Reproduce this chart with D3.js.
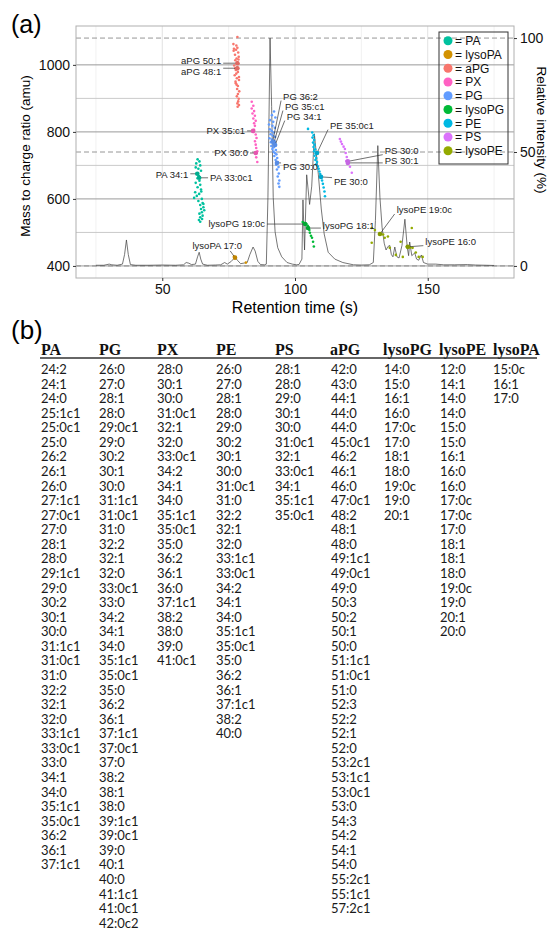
<!DOCTYPE html>
<html>
<head>
<meta charset="utf-8">
<script src="https://cdn.jsdelivr.net/npm/d3@7"></script>
<style>
  body { margin: 0; background: #fff; }
  svg { display: block; }
</style>
</head>
<body>
<svg id="fig" width="547" height="929"></svg>
<script>
// ---- data ----
const classes = ["PA", "lysoPA", "aPG", "PX", "PG", "lysoPG", "PE", "PS", "lysoPE"];
const classColors = ["#00C19F", "#D39200", "#F8766D", "#FF61C3", "#619CFF", "#00BA38", "#00B9E3", "#DB72FB", "#93AA00"];

// chromatogram: retention time (s) and relative intensity (%)
const chromTime = [25, 28, 30, 31, 33, 35, 35.8, 36.5, 37.2, 38, 40, 45, 50, 55, 58, 59, 60, 61, 62.5, 63.3, 63.9, 64.5, 65.2, 67, 70, 72, 73.5, 74.5, 76, 77.4, 78.3, 79.5, 81, 82, 83, 84.2, 85, 86, 87, 88.5, 89.2, 89.8, 90.6, 91.2, 91.8, 92.5, 93.5, 95, 97, 99, 100.5, 101.5, 102.6, 103.0, 103.6, 104.4, 105.5, 106.3, 107.3, 108.8, 109.9, 111.0, 112.5, 115, 118, 122, 125, 128, 129.5, 130.3, 131.2, 132.0, 132.8, 133.6, 134.3, 135.0, 135.7, 136.3, 136.9, 137.6, 138.4, 139.2, 140.3, 141.4, 142.3, 142.8, 143.2, 144.0, 145.1, 145.8, 146.6, 147.6, 148.4, 150, 153, 156, 160, 165, 168, 172, 175];
const chromIntensity = [0.3, 0.3, 0.8, 0.5, 0.3, 0.8, 5, 11.4, 5, 0.6, 0.3, 0.3, 0.4, 0.3, 0.5, 1.5, 1.2, 0.6, 0.8, 4, 6, 3, 0.8, 0.3, 0.4, 0.5, 1.5, 0.8, 2, 3.8, 2.5, 1, 1.3, 1.5, 5, 8.3, 6.5, 2, 0.6, 0.5, 0.8, 30, 100, 70, 30, 15, 8, 4, 1.5, 0.8, 0.5, 0.6, 3, 29, 7, 40, 27, 35, 58, 40, 25, 14, 6, 3, 1.5, 0.5, 0.4, 0.5, 1.5, 20, 52.8, 30, 17, 10, 7, 8.5, 9, 5, 4, 8.3, 4, 3.5, 9, 20.5, 8, 4.5, 10.5, 4.5, 5.7, 3, 2.5, 4.8, 1.5, 0.8, 0.8, 0.5, 0.5, 0.6, 0.4, 0.3, 0.2];

// identified species: [retention time (s), m/z]
const ptsPA = [[63.3,718],[64.0,712],[62.8,706],[64.3,700],[62.6,694],[63.6,690],[64.6,684],[63.0,675],[63.8,668],[63.3,662],[64.0,654],[62.6,648],[64.3,642],[63.3,635],[64.6,628],[64.7,622],[62.4,620],[63.9,615],[63.0,609],[62.0,603],[64.9,600],[63.6,594],[65.2,588],[65.5,585],[64.3,582],[65.5,575],[64.6,570],[65.8,566],[64.9,560],[64.0,556],[65.2,550],[64.3,545],[65.0,540],[63.8,537],[64.3,532]];
const ptsLysoPA = [[77.0,428],[77.4,424],[81.5,410]];
const ptsAPG = [[78.3,1083],[76.8,1062],[77.9,1058],[78.3,1051],[77.0,1048],[77.8,1045],[76.9,1042],[78.6,1037],[77.4,1030],[78.8,1024],[78.0,1019],[78.7,1016],[77.5,1014],[78.3,1008],[78.6,1003],[77.1,998],[78.2,992],[77.5,990],[77.7,985],[78.5,979],[77.9,974],[77.3,969],[78.9,964],[78.1,960],[78.9,955],[77.6,950],[77.7,945],[78.0,941],[78.5,937],[78.2,928],[79.0,921],[78.5,913],[78.1,906],[78.8,899],[78.6,891],[78.3,885],[78.9,880],[78.4,875]];
const ptsPX = [[83.7,890],[84.3,878],[83.7,870],[84.6,862],[84.0,855],[84.9,848],[84.3,840],[85.2,833],[84.6,826],[84.9,818],[84.6,806],[84.3,800],[85.2,792],[85.5,782],[84.9,772],[85.2,762],[85.4,752],[85.8,742],[85.6,737],[85.4,724],[85.8,710]];
const ptsPG = [[92.1,861],[91.3,850],[92.6,843],[90.6,835],[91.8,830],[90.2,822],[91.5,818],[92.4,812],[90.5,808],[91.2,803],[92.0,798],[90.8,793],[91.6,789],[92.5,785],[90.4,781],[91.3,777],[92.2,773],[90.9,769],[91.8,765],[92.6,762],[91.1,758],[92.0,754],[91.5,749],[92.8,746],[91.9,741],[92.4,737],[93.0,733],[92.2,728],[93.3,722],[92.7,716],[93.5,709],[92.9,702],[93.8,695],[93.2,688],[93.9,676],[93.5,667],[94.1,655],[93.8,646],[94.1,636]];
const ptsLysoPG = [[102.9,531],[103.6,528],[104.3,525],[104.8,520],[105.0,513],[105.4,507],[105.6,499],[106.0,490],[106.4,484],[106.8,472],[107.1,458]];
const ptsPE = [[104.9,809],[106.5,798],[107.0,790],[106.6,783],[107.2,776],[106.8,768],[107.4,762],[107.0,755],[107.6,748],[107.2,742],[107.8,736],[107.4,729],[108.0,722],[107.7,716],[108.3,710],[108.0,703],[108.6,697],[108.9,690],[109.2,682],[109.5,674],[109.8,665],[110.2,655],[110.5,645],[110.8,634],[111.1,622],[111.3,608]];
const ptsPS = [[116.9,779],[117.3,771],[117.7,764],[118.3,756],[118.8,749],[119.1,737],[119.5,725],[119.3,713],[119.8,708],[120.7,696],[121.4,678]];
const ptsLysoPE = [[128.9,513],[128.9,469],[130.1,507],[132.0,496],[133.2,494],[133.8,484],[135.0,488],[135.7,454],[138.0,433],[139.8,472],[140.6,427],[142.1,457],[142.9,457],[143.5,455],[144.0,513],[144.3,454],[145.5,440],[146.6,427],[148.1,427]];
const classPoints = [ptsPA, ptsLysoPA, ptsAPG, ptsPX, ptsPG, ptsLysoPG, ptsPE, ptsPS, ptsLysoPE];

// labelled species: point, text position (data units), text anchor
const annotations = [
  { cls: "aPG", text: "aPG 50:1", at: [78.3, 1005], pos: [72.2, 1013], anchor: "end" },
  { cls: "aPG", text: "aPG 48:1", at: [78.3, 990], pos: [72.2, 980.5], anchor: "end" },
  { cls: "PX", text: "PX 35:c1", at: [84.2, 803], pos: [81.2, 804.5], anchor: "end" },
  { cls: "PX", text: "PX 30:0", at: [85.2, 737], pos: [82.3, 737], anchor: "end" },
  { cls: "PA", text: "PA 34:1", at: [63.2, 675], pos: [59.8, 673], anchor: "end" },
  { cls: "PA", text: "PA 33:0c1", at: [63.9, 663], pos: [68.0, 663], anchor: "start" },
  { cls: "lysoPG", text: "lysoPG 19:0c", at: [103.8, 525], pos: [88.7, 525], anchor: "end" },
  { cls: "lysoPG", text: "lysoPG 18:1", at: [104.9, 513], pos: [110.5, 519], anchor: "start" },
  { cls: "lysoPA", text: "lysoPA 17:0", at: [77.4, 424.8], pos: [70.7, 460.6], anchor: "middle", from: [75.6, 444.8] },
  { cls: "PG", text: "PG 36:2", at: [91.6, 771], pos: [95.5, 905.4], anchor: "start" },
  { cls: "PG", text: "PG 35:c1", at: [92.1, 768], pos: [96.2, 875.5], anchor: "start" },
  { cls: "PG", text: "PG 34:1", at: [92.5, 761], pos: [96.9, 845.7], anchor: "start" },
  { cls: "PG", text: "PG 30:0", at: [93.2, 707.5], pos: [95.5, 695.5], anchor: "start" },
  { cls: "PE", text: "PE 35:0c1", at: [108.3, 737], pos: [113.2, 818.8], anchor: "start" },
  { cls: "PE", text: "PE 30:0", at: [109.8, 665.7], pos: [114.7, 651.6], anchor: "start" },
  { cls: "PS", text: "PS 30:0", at: [119.9, 712], pos: [133.8, 744], anchor: "start" },
  { cls: "PS", text: "PS 30:1", at: [119.9, 707.5], pos: [133.8, 714], anchor: "start" },
  { cls: "lysoPE", text: "lysoPE 19:0c", at: [132.0, 495.5], pos: [138.3, 567], anchor: "start" },
  { cls: "lysoPE", text: "lysoPE 16:0", at: [142.5, 457], pos: [149.1, 472.5], anchor: "start" }
];

const xTicks = [50, 100, 150];
const yTicks = [400, 600, 800, 1000];
const intensityTicks = [0, 50, 100];

// table (b)
const tableHeaders = ["PA", "PG", "PX", "PE", "PS", "aPG", "lysoPG", "lysoPE", "lysoPA"];
const colPA = ["24:2","24:1","24:0","25:1c1","25:0c1","25:0","26:2","26:1","26:0","27:1c1","27:0c1","27:0","28:1","28:0","29:1c1","29:0","30:2","30:1","30:0","31:1c1","31:0c1","31:0","32:2","32:1","32:0","33:1c1","33:0c1","33:0","34:1","34:0","35:1c1","35:0c1","36:2","36:1","37:1c1"];
const colPG = ["26:0","27:0","28:1","28:0","29:0c1","29:0","30:2","30:1","30:0","31:1c1","31:0c1","31:0","32:2","32:1","32:0","33:0c1","33:0","34:2","34:1","34:0","35:1c1","35:0c1","35:0","36:2","36:1","37:1c1","37:0c1","37:0","38:2","38:1","38:0","39:1c1","39:0c1","39:0","40:1","40:0","41:1c1","41:0c1","42:0c2"];
const colPX = ["28:0","30:1","30:0","31:0c1","32:1","32:0","33:0c1","34:2","34:1","34:0","35:1c1","35:0c1","35:0","36:2","36:1","36:0","37:1c1","38:2","38:0","39:0","41:0c1"];
const colPE = ["26:0","27:0","28:1","28:0","29:0","30:2","30:1","30:0","31:0c1","31:0","32:2","32:1","32:0","33:1c1","33:0c1","34:2","34:1","34:0","35:1c1","35:0c1","35:0","36:2","36:1","37:1c1","38:2","40:0"];
const colPS = ["28:1","28:0","29:0","30:1","30:0","31:0c1","32:1","33:0c1","34:1","35:1c1","35:0c1"];
const colAPG = ["42:0","43:0","44:1","44:0","44:0","45:0c1","46:2","46:1","46:0","47:0c1","48:2","48:1","48:0","49:1c1","49:0c1","49:0","50:3","50:2","50:1","50:0","51:1c1","51:0c1","51:0","52:3","52:2","52:1","52:0","53:2c1","53:1c1","53:0c1","53:0","54:3","54:2","54:1","54:0","55:2c1","55:1c1","57:2c1"];
const colLysoPG = ["14:0","15:0","16:1","16:0","17:0c","17:0","18:1","18:0","19:0c","19:0","20:1"];
const colLysoPE = ["12:0","14:1","14:0","14:0","15:0","15:0","16:1","16:0","16:0","17:0c","17:0c","17:0","18:1","18:1","18:0","19:0c","19:0","20:1","20:0"];
const colLysoPA = ["15:0c","16:1","17:0"];
const tableColumns = [colPA, colPG, colPX, colPE, colPS, colAPG, colLysoPG, colLysoPE, colLysoPA];

// ---- layout ----
const panel = { left: 76, right: 514, top: 26, bottom: 278 };
const sansFont = "'Liberation Sans', Arial, sans-serif";

const svg = d3.select("#fig");

const x = d3.scaleLinear().domain([17.5, 182.5]).range([panel.left, panel.right]);
const y = d3.scaleLinear().domain([364, 1116]).range([panel.bottom, panel.top]);
// intensity axis: 0-100 % drawn over m/z 400-1080
const yI = d3.scaleLinear().domain([0, 100]).range([y(400), y(1080)]);
const color = d3.scaleOrdinal().domain(classes).range(classColors);

// panel (a) label
svg.append("text").attr("x", 11).attr("y", 33)
   .attr("font-family", sansFont).attr("font-size", 25).text("(a)");

// grid
const grid = svg.append("g");
grid.selectAll(".vminor").data(d3.range(25, 176, 50)).enter().append("line")
    .attr("x1", d => x(d)).attr("x2", d => x(d))
    .attr("y1", panel.top).attr("y2", panel.bottom)
    .attr("stroke", "#eeeeee").attr("stroke-width", 0.8);
grid.selectAll(".vmajor").data(xTicks).enter().append("line")
    .attr("x1", d => x(d)).attr("x2", d => x(d))
    .attr("y1", panel.top).attr("y2", panel.bottom)
    .attr("stroke", "#e2e2e2").attr("stroke-width", 1);
grid.selectAll(".hminor").data([500, 700, 900]).enter().append("line")
    .attr("x1", panel.left).attr("x2", panel.right)
    .attr("y1", d => y(d)).attr("y2", d => y(d))
    .attr("stroke", "#c4c4c4").attr("stroke-width", 0.9);
grid.selectAll(".hmajor").data(yTicks).enter().append("line")
    .attr("x1", panel.left).attr("x2", panel.right)
    .attr("y1", d => y(d)).attr("y2", d => y(d))
    .attr("stroke", "#9a9a9a").attr("stroke-width", 1);

// dashed intensity reference lines
grid.selectAll(".dash").data(intensityTicks).enter().append("line")
    .attr("x1", panel.left).attr("x2", panel.right)
    .attr("y1", d => yI(d)).attr("y2", d => yI(d))
    .attr("stroke", "#8a8a8a").attr("stroke-width", 0.9)
    .attr("stroke-dasharray", "5,3");

// chromatogram
const chrom = chromTime.map((t, i) => [t, chromIntensity[i]]);
svg.append("path").datum(chrom)
   .attr("fill", "none").attr("stroke", "#3c3c3c").attr("stroke-width", 0.7)
   .attr("d", d3.line().x(d => x(d[0])).y(d => yI(d[1])));

// points
const pts = svg.append("g");
classes.forEach((c, i) => {
  pts.selectAll(null).data(classPoints[i]).enter().append("circle")
     .attr("cx", d => x(d[0])).attr("cy", d => y(d[1]))
     .attr("r", 1.3).attr("fill", color(c));
});

// labels with leader lines
const ann = svg.append("g").attr("font-family", sansFont).attr("font-size", 9.5).attr("fill", "#222");
annotations.forEach(a => {
  const px = x(a.at[0]), py = y(a.at[1]);
  const tx = x(a.pos[0]), ty = y(a.pos[1]);
  let fx, fy;
  if (a.from) { fx = x(a.from[0]); fy = y(a.from[1]); }
  else {
    fx = a.anchor === "end" ? tx + 2 : tx - 2;
    fy = ty + Math.max(-4, Math.min(4, py - ty));
  }
  ann.append("line").attr("x1", fx).attr("y1", fy).attr("x2", px).attr("y2", py)
     .attr("stroke", "#333").attr("stroke-width", 0.7);
  ann.append("circle").attr("cx", px).attr("cy", py).attr("r", 2.3)
     .attr("fill", d3.color(color(a.cls)).darker(0.3));
  ann.append("text").attr("x", tx).attr("y", ty).attr("dy", "0.35em")
     .attr("text-anchor", a.anchor).text(a.text);
});

// panel border
svg.append("rect").attr("x", panel.left).attr("y", panel.top)
   .attr("width", panel.right - panel.left).attr("height", panel.bottom - panel.top)
   .attr("fill", "none").attr("stroke", "#b0b0b0").attr("stroke-width", 1);

// axes
const styleAxis = g => {
  g.select(".domain").remove();
  g.selectAll(".tick line").attr("stroke", "#333");
  g.selectAll(".tick text").attr("font-family", sansFont).attr("font-size", 14).attr("fill", "#111");
};
svg.append("g").attr("transform", `translate(0,${panel.bottom})`)
   .call(d3.axisBottom(x).tickValues(xTicks).tickFormat(d3.format("d")).tickSize(3).tickPadding(3)).call(styleAxis);
svg.append("g").attr("transform", `translate(${panel.left},0)`)
   .call(d3.axisLeft(y).tickValues(yTicks).tickFormat(d3.format("d")).tickSize(3).tickPadding(3)).call(styleAxis);
svg.append("g").attr("transform", `translate(${panel.right},0)`)
   .call(d3.axisRight(yI).tickValues(intensityTicks).tickFormat(d3.format("d")).tickSize(3).tickPadding(3)).call(styleAxis);

// axis titles
svg.append("text").attr("x", (panel.left + panel.right) / 2).attr("y", 313)
   .attr("text-anchor", "middle").attr("font-family", sansFont).attr("font-size", 16)
   .text("Retention time (s)");
svg.append("text").attr("transform", "translate(30,156) rotate(-90)")
   .attr("text-anchor", "middle").attr("font-family", sansFont).attr("font-size", 13.5)
   .text("Mass to charge ratio (amu)");
svg.append("text").attr("transform", "translate(537,130) rotate(90)")
   .attr("text-anchor", "middle").attr("font-family", sansFont).attr("font-size", 13.5)
   .text("Relative intensity (%)");

// legend
const legend = svg.append("g");
legend.append("rect").attr("x", 439).attr("y", 32).attr("width", 69).attr("height", 132)
      .attr("fill", "none").attr("stroke", "#333").attr("stroke-width", 1);
const li = legend.selectAll(".item").data(classes).enter().append("g")
      .attr("transform", (d, i) => `translate(448,${40.7 + i * 13.75})`);
li.append("circle").attr("r", 4.5).attr("fill", d => color(d));
li.append("text").attr("x", 7).attr("dy", "0.36em")
  .attr("font-family", sansFont).attr("font-size", 12).attr("fill", "#111")
  .text(d => "= " + d);

// ---- panel (b): table ----
svg.append("text").attr("x", 11).attr("y", 339)
   .attr("font-family", sansFont).attr("font-size", 26).text("(b)");

const headerX = [41, 99, 157, 216, 275, 330, 383, 439, 493];
const bodyX = [41, 99, 157, 216, 275, 331, 384, 440, 493];
const rowTop = 374, rowStep = 14.57;

svg.append("g").selectAll("text").data(tableHeaders).enter().append("text")
   .attr("x", (d, i) => headerX[i]).attr("y", 355)
   .attr("font-family", "'Liberation Serif', 'Times New Roman', serif")
   .attr("font-weight", "bold").attr("font-size", 16).attr("fill", "#111")
   .text(d => d);
svg.append("line").attr("x1", 40).attr("x2", 537).attr("y1", 358).attr("y2", 358)
   .attr("stroke", "#333").attr("stroke-width", 1.6);

const body = svg.append("g").attr("font-family", "Lato, 'Open Sans', sans-serif")
   .attr("font-size", 13).attr("fill", "#1a1a1a");
tableColumns.forEach((col, ci) => {
  body.selectAll(null).data(col).enter().append("text")
      .attr("x", bodyX[ci]).attr("y", (d, ri) => rowTop + ri * rowStep)
      .text(d => d);
});
</script>
</body>
</html>
